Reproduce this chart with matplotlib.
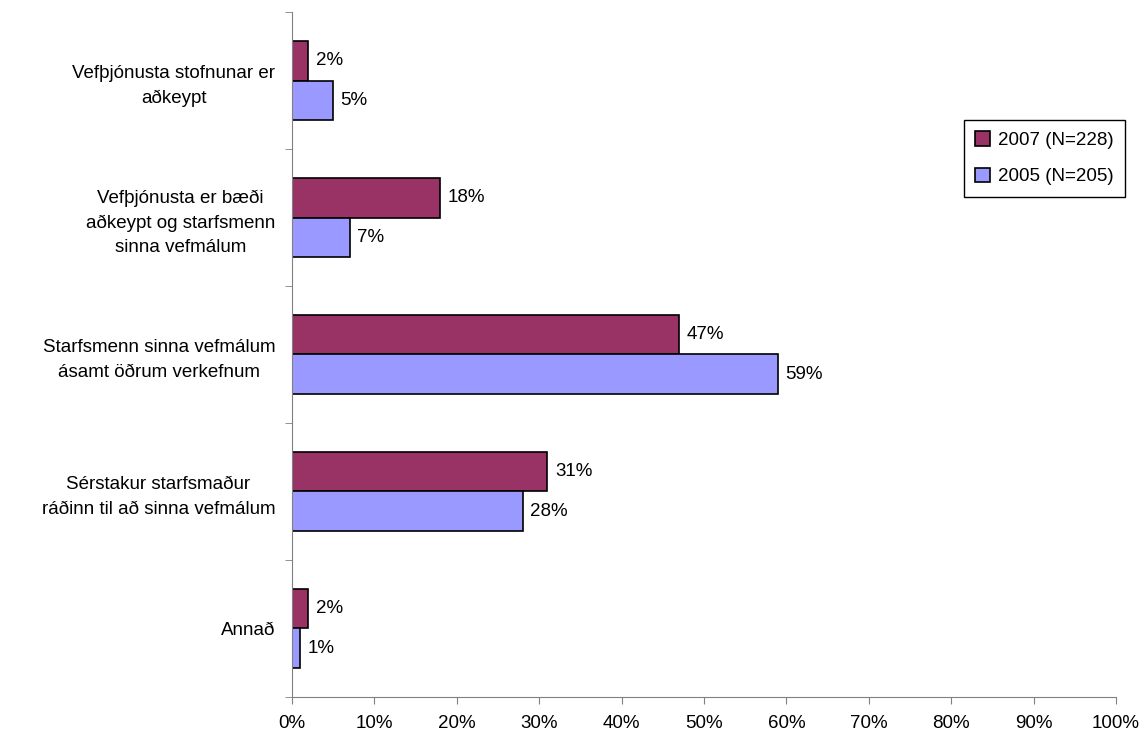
import numpy as np
import matplotlib.pyplot as plt
from matplotlib.ticker import MultipleLocator, FuncFormatter

categories = ['Vefþjónusta stofnunar er\naðkeypt',
              'Vefþjónusta er bæði\naðkeypt og starfsmenn\nsinna vefmálum',
              'Starfsmenn sinna vefmálum\násamt öðrum verkefnum',
              'Sérstakur starfsmaður\nráðinn til að sinna vefmálum',
              'Annað']
vals_2007 = [2, 18, 47, 31, 2]
vals_2005 = [5, 7, 59, 28, 1]
labels = ['2007 (N=228)', '2005 (N=205)']

plt.rcParams['font.family'] = ['Liberation Sans', 'DejaVu Sans']
plt.rcParams['font.size'] = 13.5

fig = plt.figure(figsize=(11.42, 7.38), dpi=100)
ax = fig.add_axes([0.2557, 0.0556, 0.9772 - 0.2557, 0.9837 - 0.0556])

y = np.arange(len(categories))
h = 0.29
ax.barh(y - h / 2, vals_2007, height=h, color='#993366', edgecolor='black', linewidth=1.2, label=labels[0])
ax.barh(y + h / 2, vals_2005, height=h, color='#9999FF', edgecolor='black', linewidth=1.2, label=labels[1])

for yy, v in zip(y, vals_2007):
    ax.text(v + 0.9, yy - h / 2, f'{v}%', va='center', ha='left')
for yy, v in zip(y, vals_2005):
    ax.text(v + 0.9, yy + h / 2, f'{v}%', va='center', ha='left')

ax.set_xlim(0, 100)
ax.set_ylim(len(categories) - 0.5, -0.5)
ax.xaxis.set_major_locator(MultipleLocator(10))
ax.xaxis.set_major_formatter(FuncFormatter(lambda x, p: f'{x:.0f}%'))

ax.set_yticks(y)
ax.set_yticklabels(categories)
for lab in ax.get_yticklabels():
    lab.set_multialignment('center')
    lab.set_linespacing(1.55)
ax.set_yticks(np.arange(-0.5, len(categories)), minor=True)
ax.tick_params(axis='y', which='major', length=0, pad=12)
ax.tick_params(axis='y', which='minor', length=5, color='#808080')
ax.tick_params(axis='x', length=5, color='#808080', pad=8)

for s in ['top', 'right']:
    ax.spines[s].set_visible(False)
for s in ['left', 'bottom']:
    ax.spines[s].set_color('#808080')

leg = fig.legend(loc='upper left', bbox_to_anchor=(964 / 1142, 1 - 120 / 738), fancybox=False,
                 edgecolor='black', handlelength=0.8, handleheight=0.8, handletextpad=0.4,
                 borderpad=0.6, labelspacing=1.0, borderaxespad=0, framealpha=1)
leg.get_frame().set_linewidth(1.0)

fig.savefig('out.png', dpi=100)
